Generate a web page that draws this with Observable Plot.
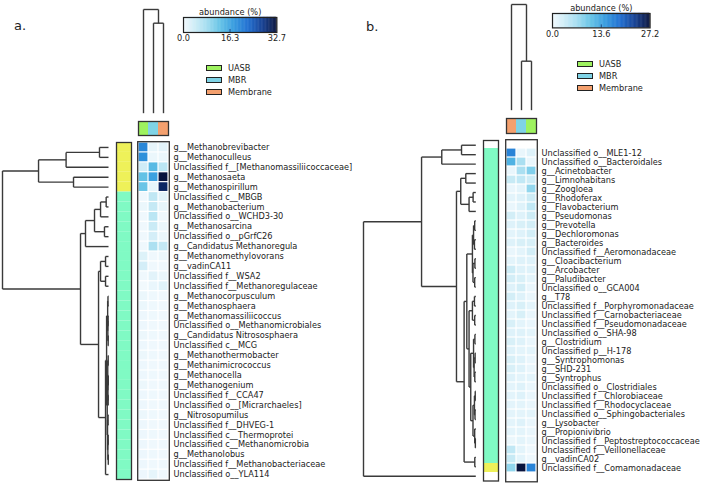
<!DOCTYPE html>
<html><head><meta charset="utf-8">
<script src="https://cdn.jsdelivr.net/npm/d3@7"></script>
<script src="https://cdn.jsdelivr.net/npm/@observablehq/plot@0.6"></script>
<style>
body{margin:0;background:#fff;}
#root{position:relative;width:711px;height:483px;overflow:hidden;font-family:"DejaVu Sans",sans-serif;color:#222;}
.abs{position:absolute;}
.abs svg{overflow:visible;display:block;max-width:none !important;}
.sw{position:absolute;box-sizing:border-box;border:1px solid #222;}
.lt{position:absolute;font-size:8.2px;line-height:10px;white-space:nowrap;}
.pl{position:absolute;font-size:13px;line-height:16px;}
</style></head><body><div id="root"></div>
<script>
// ---------------- DATA ----------------
const sampleNames = ["UASB", "MBR", "Membrane"];
const sampleColors = ["#9ef25f", "#7fd3e6", "#f4a06e"];
const clusterNames = ["cluster 1", "cluster 2"];
const clusterColors = ["#eef159", "#80fac4"];

// Panel a
const colOrderA = ["UASB", "MBR", "Membrane"];
const taxaA = [
  "g__Methanobrevibacter","g__Methanoculleus","Unclassified f__[Methanomassiliicoccaceae]","g__Methanosaeta",
  "g__Methanospirillum","Unclassified c__MBGB","g__Methanobacterium","Unclassified o__WCHD3-30",
  "g__Methanosarcina","Unclassified o__pGrfC26","g__Candidatus Methanoregula","g__Methanomethylovorans",
  "g__vadinCA11","Unclassified f__WSA2","Unclassified f__Methanoregulaceae","g__Methanocorpusculum",
  "g__Methanosphaera","g__Methanomassiliicoccus","Unclassified o__Methanomicrobiales","g__Candidatus Nitrososphaera",
  "Unclassified c__MCG","g__Methanothermobacter","g__Methanimicrococcus","g__Methanocella",
  "g__Methanogenium","Unclassified f__CCA47","Unclassified o__[Micrarchaeles]","g__Nitrosopumilus",
  "Unclassified f__DHVEG-1","Unclassified c__Thermoprotei","Unclassified c__Methanomicrobia","g__Methanolobus",
  "Unclassified f__Methanobacteriaceae","Unclassified o__YLA114"];
const uasbA = [20,19,4,13,12.5,0.5,1,0.5,0.5,0.5,0.5,2.5,3.5,0.5,0.3,1,1,0.8,0.8,0.9,0.8,0.9,0.8,0.8,0.9,0.8,0.8,0.9,0.8,0.8,0.8,0.8,0.8,0.8];
const mbrA = [1.5,1,14,17,1.5,5.5,5,6,4.5,3.5,7.5,0.5,0.5,2,1.2,0.6,0.6,0.7,0.5,0.6,0.5,0.6,0.5,0.6,0.5,0.6,0.5,0.6,0.5,0.6,0.5,0.6,0.5,1.5];
const membraneA = [2,1,6,32.7,30.5,2,1.5,0.5,1,1,5,1,0.5,1,2.2,0.5,0.5,0.5,0.5,0.5,0.5,0.5,0.5,0.5,0.5,0.5,0.5,0.5,0.5,0.5,0.5,0.5,0.5,0.5];
const clusterA = [0,0,0,0,0,1,1,1,1,1,1,1,1,1,1,1,1,1,1,1,1,1,1,1,1,1,1,1,1,1,1,1,1,1];
const ticksA = [0, 16.3, 32.7];

// Panel b
const colOrderB = ["Membrane", "MBR", "UASB"];
const taxaB = [
  "Unclassified o__MLE1-12","Unclassified o__Bacteroidales","g__Acinetobacter","g__Limnohabitans",
  "g__Zoogloea","g__Rhodoferax","g__Flavobacterium","g__Pseudomonas","g__Prevotella","g__Dechloromonas",
  "g__Bacteroides","Unclassified f__Aeromonadaceae","g__Cloacibacterium","g__Arcobacter","g__Paludibacter",
  "Unclassified o__GCA004","g__T78","Unclassified f__Porphyromonadaceae","Unclassified f__Carnobacteriaceae",
  "Unclassified f__Pseudomonadaceae","Unclassified o__SHA-98","g__Clostridium","Unclassified p__H-178",
  "g__Syntrophomonas","g__SHD-231","g__Syntrophus","Unclassified o__Clostridiales","Unclassified f__Chlorobiaceae",
  "Unclassified f__Rhodocyclaceae","Unclassified o__Sphingobacteriales","g__Lysobacter","g__Propionivibrio",
  "Unclassified f__Peptostreptococcaceae","Unclassified f__Veillonellaceae","g__vadinCA02","Unclassified f__Comamonadaceae"];
const membraneB = [17,12.5,1,4,1,1.5,1,3,2,1.5,2,1,1.5,3.5,3,2,3,2,1.5,2.5,2,2.5,2,2.5,2.5,2,1.5,1.5,1.5,1.5,1.5,1.5,0.8,4.5,4,8];
const mbrB = [1,6.5,6.5,4.5,1.5,2,2,2,2.5,2,2.5,1.5,2,2,2.5,3,2,2.5,2.5,1.5,2,2,1.5,2,2,1.5,2,2,1.5,1.5,2,1.5,1.5,1.5,1.5,27.2];
const uasbB = [2,1,9,3.5,8,3.5,4.5,3.5,3,3,2.5,3,2,2,1.5,1,1,1.5,1,1,1.5,1,1.5,1,1,1.5,1,1,1,1.5,1,1,1,0.5,0.5,17];
const clusterB = [1,1,1,1,1,1,1,1,1,1,1,1,1,1,1,1,1,1,1,1,1,1,1,1,1,1,1,1,1,1,1,1,1,1,1,0];
const ticksB = [0, 13.6, 27.2];

// Dendrograms: N(height, left, right); leaves are row/column indices
const N = (h, a, b) => ({h, c: [a, b]});
const treeA = N(1.0,
  N(0.66, N(0.40, N(0.085, 0, 1), 2), N(0.33, 3, 4)),
  N(0.264,
    N(0.217, N(0.132, N(0.075, N(0.022, 5, 6), 7), N(0.038, 8, 9)), 10),
    N(0.094,
      N(0.075, N(0.028, 11, 12), N(0.028, 13, 14)),
      N(0.028,
        N(0.018,
          N(0.008, N(0.005, 15, 16), N(0.006, N(0.004, 17, 18), N(0.003, 19, 20))),
          N(0.012, N(0.007, N(0.003, 21, 22), N(0.005, N(0.002, 23, 24), N(0.003, 25, 26))),
                   N(0.009, N(0.004, 27, 28), N(0.006, N(0.003, 29, 30), N(0.002, 31, 32))))),
        33))));
const treeB = N(1.0,
  N(0.483,
    N(0.303, N(0.127, 0, 1), 2),
    N(0.172,
      N(0.134, N(0.089, 3, 4), N(0.060, N(0.024, 5, 6), 7)),
      N(0.104,
        N(0.080,
          N(0.030, N(0.020, N(0.010, 8, 9), N(0.012, 10, 11)), N(0.025, N(0.008, 12, 13), N(0.010, 14, 15))),
          N(0.060, N(0.030, N(0.012, 16, 17), N(0.010, 18, 19)),
                   N(0.045, N(0.020, N(0.008, 20, 21), N(0.015, N(0.006, 22, 23), N(0.009, 24, 25))),
                            N(0.025, N(0.012, N(0.005, 26, 27), N(0.007, 28, 29)), N(0.010, 30, N(0.004, 31, 32)))))),
        N(0.009, 33, 34)))),
  35);
const colTreeA = N(1.0, 0, N(0.868, 1, 2));
const colTreeB = N(1.0, 0, N(0.4636, 1, 2));

// ---------------- HELPERS ----------------
const root = document.getElementById("root");
const FONT = "DejaVu Sans";
const cmap = d3.scaleLinear()
  .domain([0, 0.1, 0.25, 0.4, 0.55, 0.7, 0.85, 1])
  .range(["#f4fafe", "#d6eff8", "#a6def0", "#62c2e6", "#3399de", "#1c6cd0", "#123e92", "#08133d"])
  .interpolate(d3.interpolateRgb);
const M = 3;
function place(el, left, top) {
  const d = document.createElement("div");
  d.className = "abs"; d.style.left = left + "px"; d.style.top = top + "px";
  d.append(el); root.append(d);
}
function layout(node, segs) {
  if (typeof node === "number") return {p: node + 0.5, h: 0};
  const a = layout(node.c[0], segs), b = layout(node.c[1], segs);
  segs.push({a1: a.h, b1: a.p, a2: node.h, b2: a.p});
  segs.push({a1: b.h, b1: b.p, a2: node.h, b2: b.p});
  segs.push({a1: node.h, b1: a.p, a2: node.h, b2: b.p});
  return {p: (a.p + b.p) / 2, h: node.h};
}
const baseStyle = {fontFamily: FONT, fontSize: "8.2px", color: "#222", background: "transparent", overflow: "visible", maxWidth: "none"};

function panel(o) {
  const n = o.taxa.length;
  // row dendrogram
  const rs = []; layout(o.tree, rs);
  place(Plot.plot({
    width: o.dW + 2*M, height: o.hH + 2*M, margin: M, style: baseStyle,
    x: {domain: [1, 0], axis: null}, y: {domain: [0, n], reverse: true, axis: null},
    marks: [Plot.link(rs, {x1: "a1", y1: "b1", x2: "a2", y2: "b2", stroke: "#3a3a3a", strokeWidth: 1.4})]
  }), o.dL - M, o.hT - M);
  // row cluster bar
  const rowData = o.taxa.map((t, i) => ({taxon: t, cluster: clusterNames[o.cluster[i]]}));
  place(Plot.plot({
    width: o.rcW + 2*M, height: o.hH + 2*M, margin: M, style: baseStyle,
    x: {axis: null}, y: {domain: o.taxa, padding: 0, axis: null},
    color: {domain: clusterNames, range: clusterColors},
    marks: [Plot.cell(rowData, {y: "taxon", fill: "cluster"}), Plot.frame({stroke: "#333", strokeWidth: 1.3})]
  }), o.rcL - M, o.hT - M);
  // heatmap
  const cells = [];
  o.taxa.forEach((t, i) => o.cols.forEach(c => cells.push({taxon: t, sample: c, value: o.values[c][i]})));
  place(Plot.plot({
    width: 30 + M + 210, height: o.hH + 2*M, marginLeft: M, marginTop: M, marginBottom: M, marginRight: 210,
    style: baseStyle,
    x: {domain: o.cols, padding: 0, axis: null}, y: {domain: o.taxa, padding: 0, axis: null},
    color: {type: "linear", domain: [0, o.max], interpolate: cmap},
    marks: [
      Plot.cell(cells, {x: "sample", y: "taxon", fill: "value", inset: 0.6}),
      Plot.frame({stroke: "#333", strokeWidth: 1.3, inset: -0.8}),
      Plot.axisY({anchor: "right", tickSize: 0, tickPadding: 5, label: null, fill: "#222"})
    ]
  }), o.hL - M, o.hT - M);
  // column color bar
  place(Plot.plot({
    width: 30 + 2*M, height: o.ccH + 2*M, margin: M, style: baseStyle,
    x: {domain: o.cols, padding: 0, axis: null}, y: {axis: null},
    color: {domain: sampleNames, range: sampleColors},
    marks: [Plot.cell(o.cols, {x: d => d, fill: d => d}), Plot.frame({stroke: "#333", strokeWidth: 1.3})]
  }), o.hL - M, o.ccT - M);
  // column dendrogram
  const cs = []; layout(o.colTree, cs);
  place(Plot.plot({
    width: 30 + 2*M, height: o.cdH + 2*M, margin: M, style: baseStyle,
    x: {domain: [0, 3], axis: null}, y: {domain: [0, 1], axis: null},
    marks: [Plot.link(cs, {x1: "b1", y1: "a1", x2: "b2", y2: "a2", stroke: "#3a3a3a", strokeWidth: 1.4})]
  }), o.hL - M, o.cdT - M);
  // colour bar legend
  const steps = d3.range(120).map(i => ({s: i / 120 * o.max, e: (i + 1) / 120 * o.max}));
  const fmt = d3.format(".1f");
  place(Plot.plot({
    width: o.cbW + 2*M, height: o.cbH + M + 14, marginLeft: M, marginRight: M, marginTop: M, marginBottom: 14,
    style: baseStyle,
    x: {domain: [0, o.max]},
    color: {type: "linear", domain: [0, o.max], interpolate: cmap},
    marks: [
      Plot.rect(steps, {x1: "s", x2: "e", fill: d => (d.s + d.e) / 2, stroke: d => (d.s + d.e) / 2, strokeWidth: 0.4}),
      Plot.tickX([o.ticks[1]], {x: d => d, stroke: "#1a4a8a", strokeWidth: 1, insetTop: o.cbH - 3}),
      Plot.frame({stroke: "#222", strokeWidth: 1.2}),
      Plot.axisX({ticks: o.ticks, tickFormat: fmt, tickSize: 0, tickPadding: 3, label: null, fill: "#222"}),
      Plot.text(["abundance (%)"], {frameAnchor: "top", dy: -8, fill: "#222"})
    ]
  }), o.cbL - M, o.cbT - M);
  // category legend
  sampleNames.forEach((s, i) => {
    const sw = document.createElement("div");
    sw.className = "sw";
    Object.assign(sw.style, {left: o.lgL + "px", top: (o.lgY[i] - 3) + "px", width: o.lgW + "px", height: "6px", background: sampleColors[i]});
    root.append(sw);
    const t = document.createElement("div");
    t.className = "lt"; t.textContent = s;
    Object.assign(t.style, {left: o.lgT + "px", top: (o.lgY[i] - 5) + "px"});
    root.append(t);
  });
  const pl = document.createElement("div");
  pl.className = "pl"; pl.textContent = o.label;
  Object.assign(pl.style, {left: o.plX + "px", top: o.plY + "px"});
  root.append(pl);
}

panel({
  label: "a.", plX: 14, plY: 18,
  taxa: taxaA, cols: colOrderA, values: {UASB: uasbA, MBR: mbrA, Membrane: membraneA},
  cluster: clusterA, tree: treeA, colTree: colTreeA, max: 32.7, ticks: ticksA,
  dL: 2, dW: 106, rcL: 116, rcW: 15, hL: 138, hT: 142, hH: 337,
  ccT: 121, ccH: 14, cdT: 9.3, cdH: 103.7,
  cbL: 183.3, cbT: 17.3, cbW: 93.4, cbH: 15,
  lgL: 205.5, lgW: 16, lgT: 228, lgY: [68, 80, 92]
});
panel({
  label: "b.", plX: 366, plY: 19,
  taxa: taxaB, cols: colOrderB, values: {UASB: uasbB, MBR: mbrB, Membrane: membraneB},
  cluster: clusterB, tree: treeB, colTree: colTreeB, max: 27.2, ticks: ticksB,
  dL: 362.7, dW: 112.3, rcL: 482.5, rcW: 15, hL: 506, hT: 139.5, hH: 340.5,
  ccT: 117.5, ccH: 15, cdT: 4.3, cdH: 105.7,
  cbL: 551.7, cbT: 13.3, cbW: 97.6, cbH: 14.4,
  lgL: 577.3, lgW: 15.5, lgT: 599, lgY: [63.7, 76, 88.3]
});
</script></body></html>
